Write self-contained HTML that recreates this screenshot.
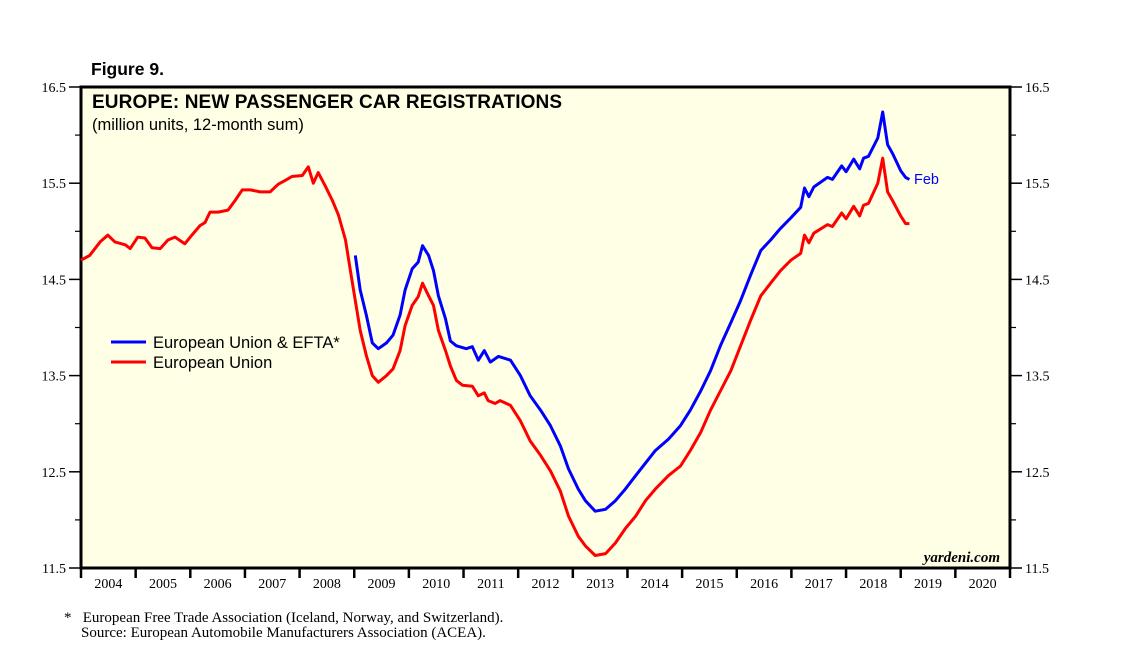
<!DOCTYPE html>
<html><head><meta charset="utf-8"><style>
body{margin:0;background:#fff;}
svg{display:block;font-family:"Liberation Sans",sans-serif;}
</style></head><body>
<svg id="chart" width="1138" height="672" viewBox="0 0 1138 672" xmlns="http://www.w3.org/2000/svg">
<text x="91" y="75" font-size="17.5" font-weight="bold">Figure 9.</text>
<rect x="81" y="87" width="929" height="481" fill="#ffffe5" stroke="#000" stroke-width="3"/>
<g id="axes"></g>
<g id="series"></g>
<text x="92" y="108" font-size="19" font-weight="bold" textLength="470">EUROPE: NEW PASSENGER CAR REGISTRATIONS</text>
<text x="92" y="130" font-size="16.5">(million units, 12-month sum)</text>
<line x1="111" y1="342" x2="146" y2="342" stroke="#0000ff" stroke-width="3"/>
<text x="153" y="348" font-size="16.5">European Union &amp; EFTA*</text>
<line x1="111" y1="362" x2="146" y2="362" stroke="#ff0000" stroke-width="3"/>
<text x="153" y="368" font-size="16.5">European Union</text>
<text x="914" y="184" font-size="14.5" fill="#0000ff">Feb</text>
<text x="1000" y="562" font-size="15" font-style="italic" font-weight="bold" text-anchor="end" font-family="Liberation Serif,serif">yardeni.com</text>
<text x="64" y="622" font-size="15" font-family="Liberation Serif,serif">*&#160;&#160;&#160;European Free Trade Association (Iceland, Norway, and Switzerland).</text>
<text x="81" y="637" font-size="15" font-family="Liberation Serif,serif">Source: European Automobile Manufacturers Association (ACEA).</text>
</svg>
<script>
const yTicks=[11.5,12.5,13.5,14.5,15.5,16.5];
const yTickLabels=["11.5","12.5","13.5","14.5","15.5","16.5"];
const yMinorTicks=[12.0,13.0,14.0,15.0,16.0];
const years=[2004,2005,2006,2007,2008,2009,2010,2011,2012,2013,2014,2015,2016,2017,2018,2019,2020];
const euDates=[2004.00,2004.16,2004.35,2004.49,2004.62,2004.81,2004.90,2005.04,2005.17,2005.30,2005.45,2005.59,2005.72,2005.90,2006.03,2006.18,2006.27,2006.36,2006.51,2006.69,2006.82,2006.95,2007.10,2007.28,2007.46,2007.61,2007.74,2007.86,2008.05,2008.16,2008.25,2008.34,2008.47,2008.60,2008.71,2008.84,2008.93,2009.02,2009.11,2009.22,2009.33,2009.44,2009.59,2009.71,2009.84,2009.93,2010.06,2010.17,2010.25,2010.36,2010.45,2010.54,2010.67,2010.76,2010.87,2010.98,2011.16,2011.27,2011.38,2011.45,2011.58,2011.67,2011.86,2012.04,2012.22,2012.41,2012.59,2012.77,2012.92,2013.10,2013.23,2013.41,2013.60,2013.78,2013.96,2014.15,2014.33,2014.51,2014.75,2014.97,2015.15,2015.34,2015.52,2015.70,2015.89,2016.07,2016.25,2016.44,2016.62,2016.80,2016.99,2017.17,2017.24,2017.32,2017.41,2017.66,2017.75,2017.92,2018.00,2018.14,2018.25,2018.32,2018.41,2018.58,2018.67,2018.76,2018.85,2019.00,2019.09,2019.16];
const euValues=[14.70,14.75,14.89,14.96,14.89,14.86,14.82,14.94,14.93,14.83,14.82,14.91,14.94,14.87,14.96,15.06,15.09,15.20,15.20,15.22,15.32,15.43,15.43,15.41,15.41,15.49,15.53,15.57,15.58,15.67,15.50,15.61,15.47,15.32,15.17,14.91,14.59,14.28,13.97,13.71,13.50,13.43,13.50,13.57,13.76,14.02,14.23,14.32,14.46,14.33,14.23,13.97,13.76,13.60,13.45,13.40,13.39,13.29,13.32,13.24,13.21,13.24,13.19,13.03,12.82,12.67,12.51,12.30,12.04,11.83,11.73,11.63,11.65,11.76,11.91,12.04,12.20,12.32,12.46,12.56,12.72,12.91,13.14,13.34,13.55,13.81,14.07,14.33,14.46,14.59,14.70,14.77,14.96,14.88,14.98,15.07,15.05,15.19,15.13,15.26,15.16,15.27,15.29,15.50,15.76,15.41,15.32,15.16,15.08,15.08];
const efDates=[2009.02,2009.11,2009.22,2009.33,2009.44,2009.59,2009.71,2009.84,2009.93,2010.06,2010.17,2010.25,2010.36,2010.45,2010.54,2010.67,2010.76,2010.87,2011.05,2011.16,2011.27,2011.38,2011.49,2011.64,2011.86,2012.04,2012.22,2012.41,2012.59,2012.77,2012.92,2013.10,2013.23,2013.41,2013.60,2013.78,2013.96,2014.15,2014.33,2014.51,2014.75,2014.97,2015.15,2015.34,2015.52,2015.70,2015.89,2016.07,2016.25,2016.44,2016.62,2016.80,2016.99,2017.17,2017.24,2017.32,2017.41,2017.66,2017.75,2017.92,2018.00,2018.14,2018.25,2018.32,2018.41,2018.58,2018.67,2018.76,2018.85,2019.00,2019.09,2019.16];
const efValues=[14.75,14.39,14.13,13.84,13.78,13.84,13.92,14.13,14.39,14.61,14.68,14.85,14.75,14.59,14.33,14.09,13.86,13.81,13.78,13.80,13.66,13.76,13.64,13.70,13.66,13.50,13.29,13.14,12.98,12.77,12.53,12.32,12.20,12.09,12.11,12.20,12.32,12.46,12.59,12.72,12.84,12.98,13.14,13.34,13.55,13.81,14.05,14.28,14.54,14.80,14.91,15.03,15.14,15.25,15.45,15.36,15.46,15.56,15.54,15.68,15.62,15.75,15.65,15.76,15.78,15.97,16.24,15.90,15.81,15.63,15.56,15.54];

const NS="http://www.w3.org/2000/svg";
const L=81,R=1010,T=87,B=568;
function xs(yr){return L+(yr-2004)*(R-L)/17;}
function ys(v){return B-(v-11.5)*(B-T)/5;}
const axes=document.getElementById('axes');
function mk(tag,attrs,parent){const e=document.createElementNS(NS,tag);for(const k in attrs)e.setAttribute(k,attrs[k]);parent.appendChild(e);return e;}
yTicks.forEach((v,i)=>{
  const y=ys(v);
  const t1=mk('line',{x1:L-12,x2:L,y1:y,y2:y,stroke:'#000','stroke-width':1.5},axes);
  
  
  const t2=mk('line',{x1:R,x2:R+12,y1:y,y2:y,stroke:'#000','stroke-width':1.5},axes);
  
  
  const a=mk('text',{x:L-15,y:y+5,'font-size':14,'text-anchor':'end','font-family':'Liberation Serif,serif'},axes);
  a.textContent=yTickLabels[i];
  
  
  const b=mk('text',{x:R+15,y:y+5,'font-size':14,'font-family':'Liberation Serif,serif'},axes);
  b.textContent=yTickLabels[i];
  
  
});
yMinorTicks.forEach(v=>{
  const y=ys(v);
  const m1=mk('line',{x1:L-6,x2:L,y1:y,y2:y,stroke:'#000','stroke-width':1.2},axes);
  
  
  const m2=mk('line',{x1:R,x2:R+6,y1:y,y2:y,stroke:'#000','stroke-width':1.2},axes);
  
  
});
years.forEach(yr=>{
  const x=xs(yr);
  const t=mk('line',{x1:x,x2:x,y1:B,y2:B+10,stroke:'#000','stroke-width':2.5},axes);
  
  
  const lb=mk('text',{x:xs(yr+0.5),y:B+20,'font-size':14,'text-anchor':'middle','font-family':'Liberation Serif,serif'},axes);
  lb.textContent=String(yr);
  
  
});
const xe=mk('line',{x1:xs(2021),x2:xs(2021),y1:B,y2:B+10,stroke:'#000','stroke-width':2.5},axes);


const ser=document.getElementById('series');
function path(d,v){return d.map((t,i)=>(i?'L':'M')+xs(t).toFixed(1)+','+ys(v[i]).toFixed(1)).join(' ');}
const p1=mk('path',{d:path(euDates,euValues),fill:'none',stroke:'#ff0000','stroke-width':3,'stroke-linejoin':'round'},ser);


const p2=mk('path',{d:path(efDates,efValues),fill:'none',stroke:'#0000ff','stroke-width':3,'stroke-linejoin':'round'},ser);


</script>
</body></html>
